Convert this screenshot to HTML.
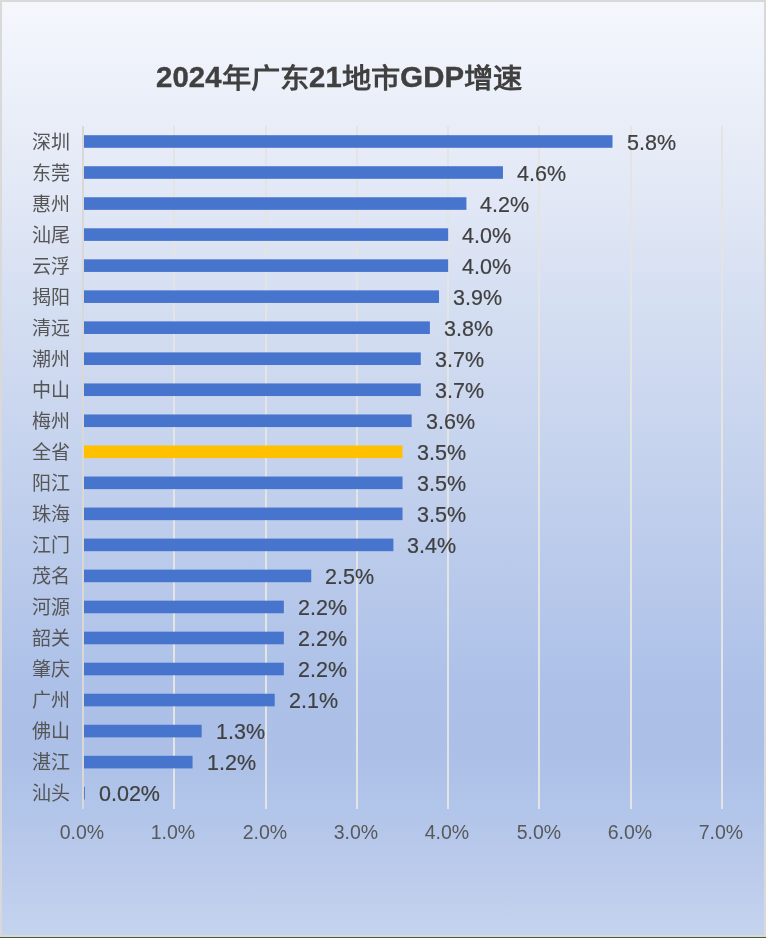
<!DOCTYPE html>
<html lang="zh-CN">
<head>
<meta charset="utf-8">
<style>
html,body{margin:0;padding:0;}
.title,.c,.d,.x{will-change:transform;}
body{width:766px;height:938px;position:relative;overflow:hidden;background:#d9d9d9;font-family:"Liberation Sans",sans-serif;}
.frame{position:absolute;left:2px;top:2px;width:762px;height:933px;
background:linear-gradient(to bottom,#f4f7fc 0px,#ebeff9 100px,#e1e7f5 200px,#d5dff2 300px,#cbd7ef 400px,#bbcbeb 550px,#acc0e8 690px,#abbfe7 740px,#b3c6ea 820px,#bccbeb 870px,#c4d3ee 933px);}
.green{position:absolute;left:0;top:937px;width:766px;height:1px;background:#3c6040;}
svg{position:absolute;left:0;top:0;}
.title{position:absolute;left:156px;top:58.5px;font-size:29.3px;font-weight:bold;color:#404040;-webkit-text-stroke:0.4px #404040;letter-spacing:0.13px;white-space:nowrap;line-height:36px;}
.cj{-webkit-text-stroke:0;display:inline-block;transform:translateY(1px) scaleY(0.95);transform-origin:50% 85%;}
.c{position:absolute;left:32px;width:40px;font-family:"Liberation Serif",serif;font-size:19px;font-weight:300;line-height:28px;color:#555555;white-space:nowrap;}
.d{position:absolute;font-size:21.5px;line-height:26px;color:#404040;-webkit-text-stroke:0.2px #404040;white-space:nowrap;}
.x{position:absolute;top:819px;width:80px;text-align:center;font-size:19.5px;line-height:26px;color:#595959;}
</style>
</head>
<body>
<div class="frame"></div>
<div class="green"></div>
<svg width="766" height="938" viewBox="0 0 766 938">
<rect x="82" y="126" width="2" height="683" fill="#d9d8d5"/>
<rect x="173" y="126" width="2" height="683" fill="#e4e4e2"/>
<rect x="265" y="126" width="2" height="683" fill="#e4e4e2"/>
<rect x="356" y="126" width="2" height="683" fill="#e4e4e2"/>
<rect x="447" y="126" width="2" height="683" fill="#e4e4e2"/>
<rect x="538" y="126" width="2" height="683" fill="#e4e4e2"/>
<rect x="630" y="126" width="2" height="683" fill="#e4e4e2"/>
<rect x="721" y="126" width="2" height="683" fill="#e4e4e2"/>
<rect x="84" y="135.20" width="528.48" height="12.6" fill="#4774cc"/>
<rect x="84" y="166.23" width="418.93" height="12.6" fill="#4774cc"/>
<rect x="84" y="197.26" width="382.42" height="12.6" fill="#4774cc"/>
<rect x="84" y="228.29" width="364.16" height="12.6" fill="#4774cc"/>
<rect x="84" y="259.32" width="364.16" height="12.6" fill="#4774cc"/>
<rect x="84" y="290.35" width="355.03" height="12.6" fill="#4774cc"/>
<rect x="84" y="321.38" width="345.90" height="12.6" fill="#4774cc"/>
<rect x="84" y="352.41" width="336.77" height="12.6" fill="#4774cc"/>
<rect x="84" y="383.44" width="336.77" height="12.6" fill="#4774cc"/>
<rect x="84" y="414.47" width="327.64" height="12.6" fill="#4774cc"/>
<rect x="84" y="445.50" width="318.52" height="12.6" fill="#ffc000"/>
<rect x="84" y="476.53" width="318.52" height="12.6" fill="#4774cc"/>
<rect x="84" y="507.56" width="318.52" height="12.6" fill="#4774cc"/>
<rect x="84" y="538.59" width="309.39" height="12.6" fill="#4774cc"/>
<rect x="84" y="569.62" width="227.23" height="12.6" fill="#4774cc"/>
<rect x="84" y="600.65" width="199.84" height="12.6" fill="#4774cc"/>
<rect x="84" y="631.68" width="199.84" height="12.6" fill="#4774cc"/>
<rect x="84" y="662.71" width="199.84" height="12.6" fill="#4774cc"/>
<rect x="84" y="693.74" width="190.71" height="12.6" fill="#4774cc"/>
<rect x="84" y="724.77" width="117.68" height="12.6" fill="#4774cc"/>
<rect x="84" y="755.80" width="108.55" height="12.6" fill="#4774cc"/>
<rect x="84" y="786.83" width="0.90" height="12.6" fill="#4774cc"/>
</svg>
<div class="title">2024<span class="cj">年广东</span>21<span class="cj">地市</span>GDP<span class="cj">增速</span></div>
<div class="c" style="top:129.4px">深圳</div>
<div class="d" style="top:130.2px;left:626.5px">5.8%</div>
<div class="c" style="top:160.4px">东莞</div>
<div class="d" style="top:161.2px;left:516.9px">4.6%</div>
<div class="c" style="top:191.4px">惠州</div>
<div class="d" style="top:192.2px;left:480.4px">4.2%</div>
<div class="c" style="top:222.3px">汕尾</div>
<div class="d" style="top:223.1px;left:462.2px">4.0%</div>
<div class="c" style="top:253.3px">云浮</div>
<div class="d" style="top:254.1px;left:462.2px">4.0%</div>
<div class="c" style="top:284.3px">揭阳</div>
<div class="d" style="top:285.1px;left:453.0px">3.9%</div>
<div class="c" style="top:315.3px">清远</div>
<div class="d" style="top:316.1px;left:443.9px">3.8%</div>
<div class="c" style="top:346.3px">潮州</div>
<div class="d" style="top:347.1px;left:434.8px">3.7%</div>
<div class="c" style="top:377.2px">中山</div>
<div class="d" style="top:378.0px;left:434.8px">3.7%</div>
<div class="c" style="top:408.2px">梅州</div>
<div class="d" style="top:409.0px;left:425.6px">3.6%</div>
<div class="c" style="top:439.2px">全省</div>
<div class="d" style="top:440.0px;left:416.5px">3.5%</div>
<div class="c" style="top:470.2px">阳江</div>
<div class="d" style="top:471.0px;left:416.5px">3.5%</div>
<div class="c" style="top:501.2px">珠海</div>
<div class="d" style="top:502.0px;left:416.5px">3.5%</div>
<div class="c" style="top:532.1px">江门</div>
<div class="d" style="top:532.9px;left:407.4px">3.4%</div>
<div class="c" style="top:563.1px">茂名</div>
<div class="d" style="top:563.9px;left:325.2px">2.5%</div>
<div class="c" style="top:594.1px">河源</div>
<div class="d" style="top:594.9px;left:297.8px">2.2%</div>
<div class="c" style="top:625.1px">韶关</div>
<div class="d" style="top:625.9px;left:297.8px">2.2%</div>
<div class="c" style="top:656.1px">肇庆</div>
<div class="d" style="top:656.9px;left:297.8px">2.2%</div>
<div class="c" style="top:687.0px">广州</div>
<div class="d" style="top:687.8px;left:288.7px">2.1%</div>
<div class="c" style="top:718.0px">佛山</div>
<div class="d" style="top:718.8px;left:215.7px">1.3%</div>
<div class="c" style="top:749.0px">湛江</div>
<div class="d" style="top:749.8px;left:206.5px">1.2%</div>
<div class="c" style="top:780.0px">汕头</div>
<div class="d" style="top:780.8px;left:98.8px">0.02%</div>
<div class="x" style="left:42.0px">0.0%</div>
<div class="x" style="left:133.3px">1.0%</div>
<div class="x" style="left:224.6px">2.0%</div>
<div class="x" style="left:315.9px">3.0%</div>
<div class="x" style="left:407.2px">4.0%</div>
<div class="x" style="left:498.5px">5.0%</div>
<div class="x" style="left:589.7px">6.0%</div>
<div class="x" style="left:681.0px">7.0%</div>
</body>
</html>
